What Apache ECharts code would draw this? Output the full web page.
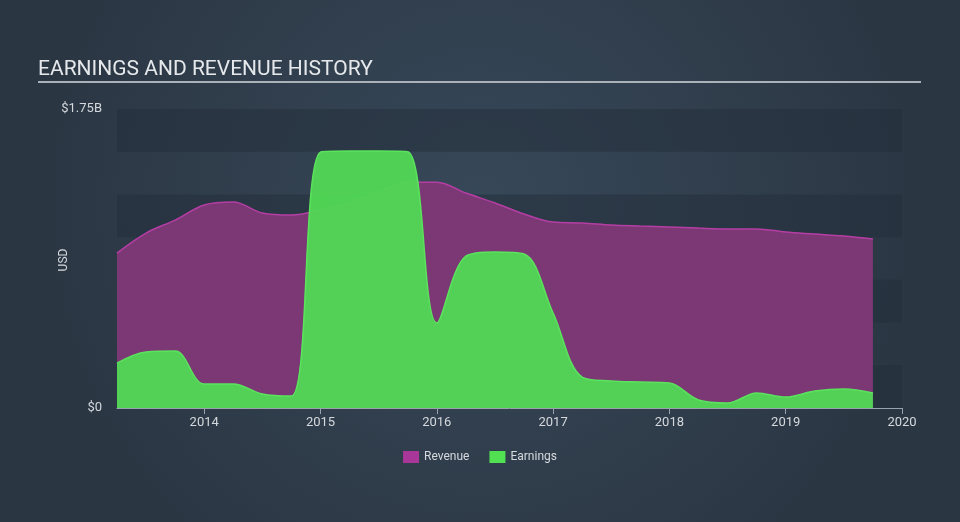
<!DOCTYPE html>
<html>
<head>
<meta charset="utf-8">
<script src="https://cdn.jsdelivr.net/npm/echarts@6/dist/echarts.min.js"></script>
<style>
html,body{margin:0;padding:0;width:960px;height:522px;overflow:hidden;}
#c{width:960px;height:522px;}
</style>
</head>
<body>
<div id="c"></div>
<script>
// decimal-year dates (quarter ends)
const dates = [2013.25,2013.5,2013.75,2014.0,2014.25,2014.5,2014.75,2015.0,2015.25,2015.5,2015.75,2016.0,2016.25,2016.5,2016.75,2017.0,2017.25,2017.5,2017.75,2018.0,2018.25,2018.5,2018.75,2019.0,2019.25,2019.5,2019.75];
// values in billions USD
const revenue = [0.907,1.024,1.100,1.188,1.205,1.141,1.129,1.159,1.205,1.264,1.322,1.322,1.258,1.200,1.135,1.088,1.083,1.071,1.065,1.060,1.053,1.048,1.048,1.030,1.018,1.006,0.989];
const earnings = [0.263,0.328,0.334,0.140,0.140,0.082,0.070,1.498,1.504,1.504,1.500,0.497,0.889,0.913,0.901,0.556,0.181,0.158,0.152,0.146,0.047,0.029,0.088,0.064,0.099,0.111,0.088];
const yearTicks = [2014,2015,2016,2017,2018,2019,2020];
const yTicks = [0,1.75];

const revSeries = dates.map((d,i)=>[d,revenue[i]]);
const earnSeries = dates.map((d,i)=>[d,earnings[i]]);

const chart = echarts.init(document.getElementById('c'), null, {renderer:'canvas'});
const font = 'Roboto, "Open Sans", sans-serif';
chart.setOption({
  animation:false,
  backgroundColor:{type:'radial',x:0.5,y:0.4,r:0.85,colorStops:[{offset:0,color:'#374859'},{offset:1,color:'#2b3643'}]},
  title:{text:'EARNINGS AND REVENUE HISTORY',left:33,top:54,textStyle:{color:'#e6e9ec',fontSize:21,fontWeight:'normal',fontFamily:font}},
  graphic:[
    {type:'line',shape:{x1:38,y1:82,x2:921,y2:82},style:{stroke:'#aab1b8',lineWidth:2}},
    {type:'text',x:64,y:260,rotation:Math.PI/2,style:{text:'USD',fill:'#d5d9dd',font:'12px '+font,align:'center',verticalAlign:'middle'}}
  ],
  legend:{bottom:54,left:'center',itemWidth:16,itemHeight:12,itemGap:20,icon:'rect',
    textStyle:{color:'#d5d9dd',fontSize:12,fontFamily:font},
    data:[{name:'Revenue',itemStyle:{color:'#a9379a'}},{name:'Earnings',itemStyle:{color:'#50e052'}}]},
  grid:{left:117,right:58,top:109,bottom:114},
  xAxis:{type:'value',min:2013.25,max:2020,
    axisLine:{show:true,lineStyle:{color:'#9aa3ad',width:1}},
    axisTick:{show:true,length:6,lineStyle:{color:'#9aa3ad'},customValues:yearTicks},
    axisLabel:{color:'#d5d9dd',fontSize:13,fontFamily:font,margin:8,customValues:yearTicks,formatter:v=>String(Math.round(v))},
    splitLine:{show:false}},
  yAxis:{type:'value',min:0,max:1.75,interval:0.25,
    axisLine:{show:false},axisTick:{show:false},
    axisLabel:{color:'#d5d9dd',fontSize:13,fontFamily:font,margin:15,
      formatter:v=>{ if(Math.abs(v)<1e-9) return '$0'; if(Math.abs(v-yTicks[1])<1e-9) return '$1.75B'; return ''; }},
    splitLine:{show:false},
    splitArea:{show:true,areaStyle:{color:['rgba(36,47,60,0.55)','rgba(0,0,0,0)']}}},
  series:[
    {name:'Revenue',type:'line',data:revSeries,smooth:0.35,showSymbol:false,z:2,
      lineStyle:{color:'#b53ea4',width:1.5},itemStyle:{color:'#a9379a'},
      areaStyle:{color:'#7b3875',opacity:1}},
    {name:'Earnings',type:'line',data:earnSeries,smooth:0.35,showSymbol:false,z:3,
      lineStyle:{color:'#5be35d',width:1.5},itemStyle:{color:'#50e052'},
      areaStyle:{color:'#51d755',opacity:0.96}}
  ]
});
</script>
</body>
</html>
